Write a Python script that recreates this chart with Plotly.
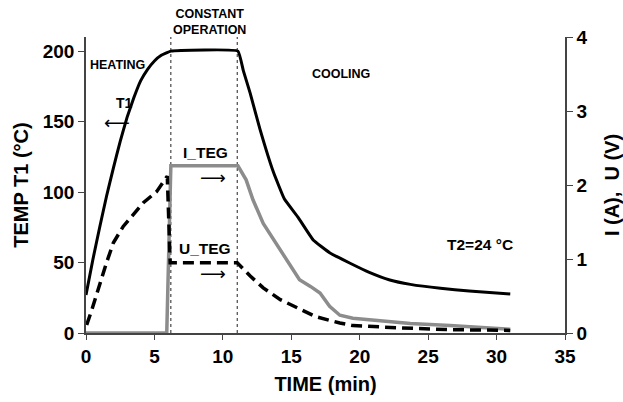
import plotly.graph_objects as go

# Hot-side temperature T1 (deg C) versus time (min)
t1_time = [0.0, 0.5, 1.0, 1.5, 2.0, 2.5, 3.0, 3.5, 4.0, 4.5, 5.0, 5.5, 6.2,
           11.1, 11.5, 12.0, 12.7, 13.7, 14.5, 15.5, 16.6, 17.8, 19.3, 20.7,
           22.2, 23.7, 25.9, 28.0, 31.0]
t1_temp = [27, 52, 75, 97, 117, 136, 153, 167, 179, 187, 193, 197, 200,
           200, 186, 170, 145, 114, 95, 82, 66, 57, 49.5, 43,
           37.6, 34.5, 31.7, 29.8, 27.7]

# TEG current I (A)
i_time = [0.0, 5.9, 6.2, 11.1, 11.7, 12.2, 12.95, 13.7, 14.5, 15.6, 16.4,
          17.1, 17.8, 18.55, 19.5, 20.7, 23.7, 26.6, 31.0]
i_amp = [0.0, 0.0, 2.26, 2.26, 2.07, 1.80, 1.48, 1.26, 1.03, 0.72, 0.63,
         0.54, 0.36, 0.24, 0.20, 0.18, 0.13, 0.10, 0.05]

# TEG voltage U (V)
u_time = [0.05, 0.42, 1.5, 2.0, 2.72, 3.34, 4.19, 5.16, 5.94, 6.15, 11.05,
          12.0, 12.95, 14.2, 15.4, 16.8, 18.55, 19.5, 22.9, 26.6, 31.0]
u_volt = [0.11, 0.31, 0.95, 1.22, 1.44, 1.58, 1.76, 1.91, 2.12, 0.95, 0.95,
          0.77, 0.61, 0.45, 0.34, 0.22, 0.135, 0.10, 0.07, 0.045, 0.035]

# Boundaries of the constant-operation phase (min)
phase_bounds = [6.2, 11.05]

x_ticks = [0, 5, 10, 15, 20, 25, 30, 35]
y_ticks = [0, 50, 100, 150, 200]
y2_ticks = [0, 1, 2, 3, 4]

FONT = "Liberation Sans, Arial, sans-serif"
ARROW_FONT = "DejaVu Sans, sans-serif"
AXIS_COLOR = "#444444"

fig = go.Figure()

fig.add_trace(go.Scatter(
    x=t1_time, y=t1_temp, mode="lines", name="T1",
    line=dict(color="black", width=3, shape="spline", smoothing=0.3), yaxis="y",
))
fig.add_trace(go.Scatter(
    x=i_time, y=i_amp, mode="lines", name="I_TEG",
    line=dict(color="#8c8c8c", width=3.5), yaxis="y2",
))
fig.add_trace(go.Scatter(
    x=u_time, y=u_volt, mode="lines", name="U_TEG",
    line=dict(color="black", width=3.5, dash="11px,6px"), yaxis="y2",
))

for xb in phase_bounds:
    fig.add_shape(type="line", xref="x", yref="paper", x0=xb, x1=xb, y0=0, y1=1,
                  line=dict(color="#222222", width=1, dash="dot"), layer="below")

def label(x, y, text, size, bold=True, yref="y", family=FONT):
    txt = f"<b>{text}</b>" if bold else text
    fig.add_annotation(x=x, y=y, xref="x", yref=yref, text=txt, showarrow=False,
                       font=dict(family=family, size=size, color="black"),
                       xanchor="center", yanchor="middle")

label(2.3, 190.3, "HEATING", 12.5)
label(9.06, 1.051, "CONSTANT<br>OPERATION", 12.5, yref="paper")
label(18.6, 183.9, "COOLING", 12.5)
label(2.81, 163.4, "T1", 14)
label(2.3, 149.0, "\u27f5", 18, bold=False, family=ARROW_FONT)
label(8.73, 127.9, "I_TEG", 15.5)
label(9.31, 110.0, "\u27f6", 18, bold=False, family=ARROW_FONT)
label(8.69, 59.8, "U_TEG", 15.5)
label(9.31, 41.9, "\u27f6", 18, bold=False, family=ARROW_FONT)
label(28.8, 62.6, "T2=24 \u00b0C", 15.5)

tick_font = dict(family=FONT, size=19, color="black")
title_font = dict(family=FONT, size=20, color="black")

common = dict(showgrid=False, zeroline=False, showline=True, linecolor=AXIS_COLOR,
              linewidth=1.5, ticks="outside", tickcolor=AXIS_COLOR,
              tickfont=tick_font, automargin=False)

fig.update_layout(
    width=623, height=402,
    margin=dict(l=86, r=58, t=37, b=69),
    paper_bgcolor="white", plot_bgcolor="white",
    showlegend=False,
    xaxis=dict(
        range=[0, 35], tickvals=x_ticks, ticktext=[f"<b>{v}</b>" for v in x_ticks],
        ticklen=5,
        title=dict(text="<b>TIME (min)</b>", font=title_font, standoff=11),
        **common,
    ),
    yaxis=dict(
        range=[0, 210], tickvals=y_ticks, ticktext=[f"<b>{v}</b>" for v in y_ticks],
        ticklen=6,
        title=dict(text="<b>TEMP T1 (\u00b0C)</b>", font=title_font, standoff=9),
        **common,
    ),
    yaxis2=dict(
        range=[0, 4], tickvals=y2_ticks, ticktext=[f"<b>{v}</b>" for v in y2_ticks],
        overlaying="y", side="right", anchor="x", ticklen=6,
        title=dict(text="<b>I (A),  U (V)</b>", font=title_font, standoff=18),
        **common,
    ),
)

fig.write_html("out.html")
